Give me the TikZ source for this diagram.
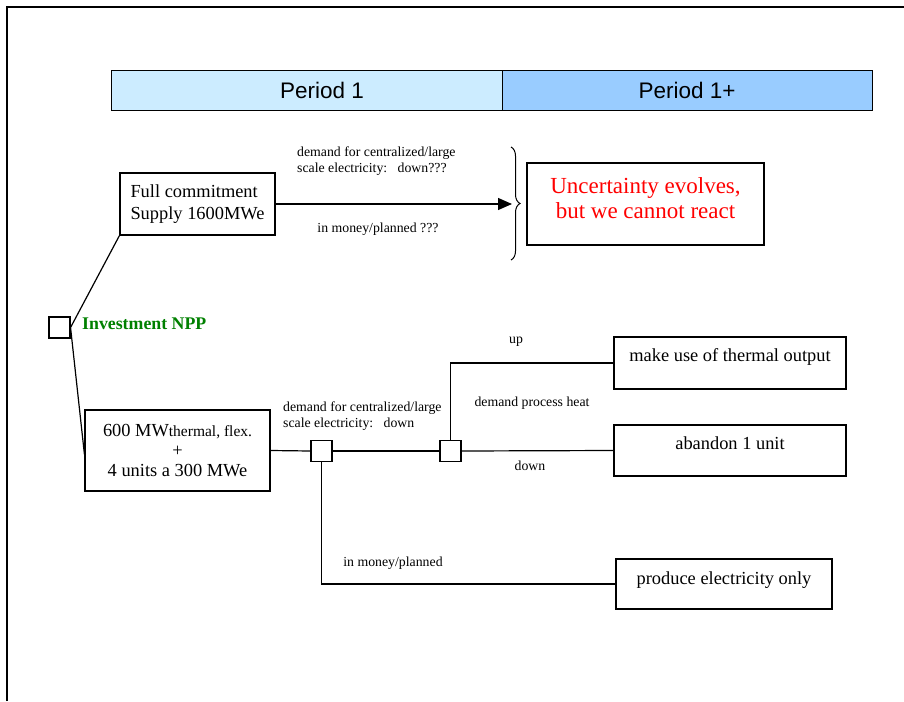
\documentclass[tikz,border=0pt]{standalone}
\usepackage{fontspec}
\setmainfont{Liberation Serif}
\newfontfamily\arialfont{Liberation Sans}
\usetikzlibrary{arrows.meta,decorations.pathreplacing}
\definecolor{pone}{RGB}{204,236,255}
\definecolor{ponep}{RGB}{153,204,255}
\definecolor{npgreen}{RGB}{0,128,0}
\begin{document}
\begin{tikzpicture}[x=1pt,y=-1pt,
  box/.style={draw,line width=1.1pt,inner sep=0pt,font=\fontsize{18.4}{21.5}\selectfont},
  dec/.style={draw,line width=1.1pt,minimum size=21pt,inner sep=0pt},
  lbl/.style={inner sep=0pt,font=\fontsize{13.8}{16}\selectfont},
  conn/.style={line width=1.2pt},
  period/.style={draw,line width=0.8pt,inner sep=0pt,minimum height=40pt,font=\arialfont\fontsize{22.5}{25}\selectfont}]
\useasboundingbox (0,0) rectangle (904,701);
\draw[line width=2pt] (7,701) -- (7,7) -- (904,7);

\node[period,fill=pone,minimum width=422pt] (p1) at (322,90) {Period 1};
\node[period,fill=ponep,minimum width=370pt] (p2) at (687,90) {Period 1+};

\node[box,minimum width=155pt,minimum height=62pt,align=left] (fc) at (197.5,204) {Full commitment\\Supply 1600MWe};
\node[box,minimum width=237pt,minimum height=82pt,align=center,text=red,font=\fontsize{23}{25}\selectfont] (unc) at (645.5,204) {Uncertainty evolves,\\but we cannot react\rule[-11pt]{0pt}{1pt}};
\node[box,minimum width=185pt,minimum height=81pt,align=center,font=\fontsize{18.4}{20}\selectfont] (flex) at (177.5,450.5) {600 MW{\fontsize{15.5}{18}\selectfont thermal, flex.}\\+\\4 units a 300 MWe};
\node[box,minimum width=232pt,minimum height=52pt,text height=12pt,text depth=16pt] (make) at (730,363) {make use of thermal output};
\node[box,minimum width=232pt,minimum height=51pt,text height=12pt,text depth=14.5pt] (abandon) at (730,450.5) {abandon 1 unit};
\node[box,minimum width=216pt,minimum height=50pt,text height=12pt,text depth=12pt] (produce) at (724,584) {produce electricity only};

\node[dec] (sq1) at (59.5,327.5) {};
\node[dec] (sq2) at (321.5,451) {};
\node[dec] (sq3) at (450.5,451) {};

\node[anchor=west,inner sep=0pt,text=npgreen,font=\bfseries\fontsize{17.8}{20}\selectfont] (inv) at (82,324) {Investment NPP};

\coordinate (btip) at (512,204);
\draw[conn] (sq1.east) -- (fc.south west);
\draw[conn] (sq1.east) -- ([yshift=-4pt]flex.west);
\draw[conn,-{Triangle[length=14pt,width=12pt]}] (fc.east) -- (btip);
\draw[line width=1pt,decorate,decoration={brace,amplitude=9pt}] (511,147) -- (511,260);
\draw[conn] (flex.east) -- (sq2.west);
\draw[conn] (sq2.east) -- (sq3.west);
\draw[conn] (sq3.north) |- (make.west);
\draw[conn] (sq3.east) -- (abandon.west);
\draw[conn] (sq2.south) |- (produce.west);

\node[lbl,anchor=west,align=left] (l1) at (297,161) {demand for centralized/large\\scale electricity:\ \ \ down???};
\node[lbl] (l2) at (378,229) {in money/planned ???};
\node[lbl,anchor=west,align=left] (l3) at (283,416) {demand for centralized/large\\scale electricity:\ \ \ down};
\node[lbl] (l4) at (516,342) {up};
\node[lbl] (l5) at (532,403) {demand process heat};
\node[lbl] (l6) at (530,466) {down};
\node[lbl] (l7) at (393,563) {in money/planned};
\end{tikzpicture}
\end{document}
